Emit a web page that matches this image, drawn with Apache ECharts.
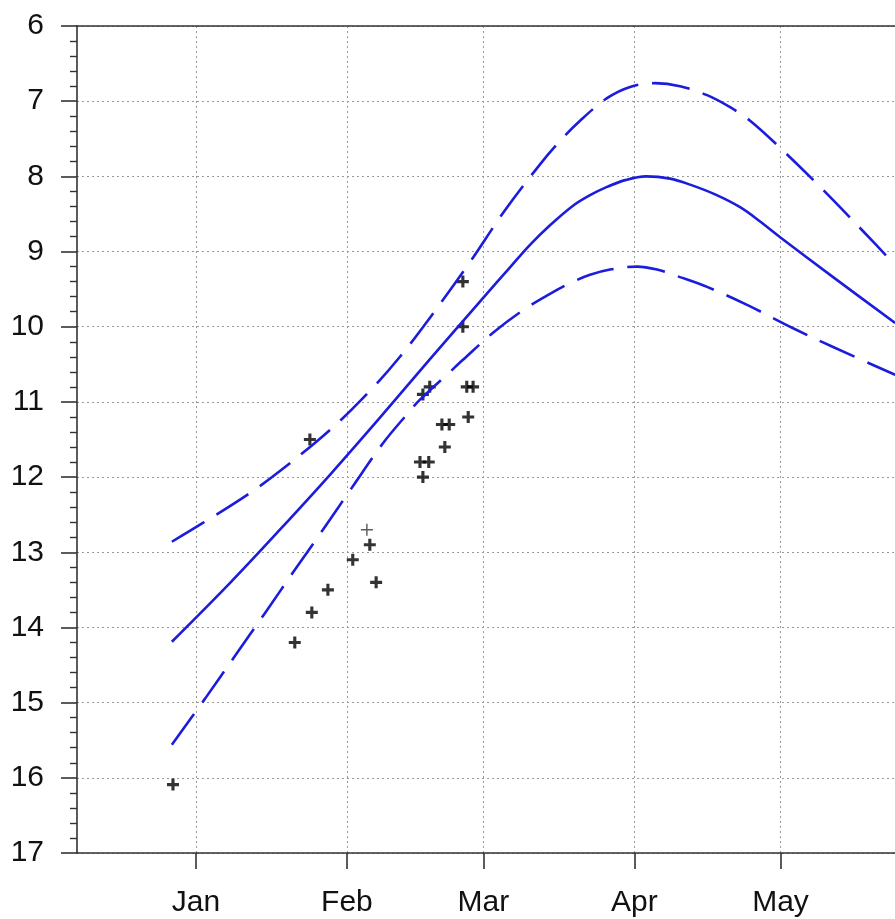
<!DOCTYPE html>
<html>
<head>
<meta charset="utf-8">
<script src="https://cdn.jsdelivr.net/npm/echarts@6/dist/echarts.min.js"></script>
<style>html,body{margin:0;padding:0;background:#fff}#c{width:895px;height:919px}</style>
</head>
<body>
<div id="c"></div>
<script>
// x values are days since 1 January
const monthDays = [0, 31, 59, 90, 120];
const monthLabels = ['Jan', 'Feb', 'Mar', 'Apr', 'May'];
const yTicks = [6, 7, 8, 9, 10, 11, 12, 13, 14, 15, 16, 17];

const centerLine = [
  [-4.93, 14.19], [6.98, 13.41], [17.25, 12.70], [27.52, 11.97], [37.78, 11.21],
  [48.05, 10.43], [58.93, 9.62], [64.48, 9.21], [68.58, 8.91], [72.69, 8.65],
  [77.41, 8.39], [80.90, 8.25], [84.39, 8.14], [88.09, 8.05], [92.40, 8.00],
  [97.33, 8.03], [101.44, 8.11], [106.57, 8.24], [111.70, 8.41], [115.81, 8.60],
  [119.92, 8.81], [130.80, 9.34], [143.53, 9.95]
];
const upperLine = [
  [-4.93, 12.86], [1.44, 12.61], [10.47, 12.24], [17.25, 11.92], [27.93, 11.35],
  [36.34, 10.81], [41.89, 10.40], [48.05, 9.88], [56.26, 9.14], [63.45, 8.45],
  [70.64, 7.84], [74.74, 7.53], [78.85, 7.26], [84.39, 6.96], [89.12, 6.81],
  [94.25, 6.76], [99.38, 6.80], [104.93, 6.92], [109.65, 7.08], [113.76, 7.26],
  [119.92, 7.62], [128.13, 8.14], [136.96, 8.73], [143.53, 9.18]
];
const lowerLine = [
  [-4.93, 15.56], [1.85, 14.95], [8.01, 14.38], [14.17, 13.81], [19.92, 13.27],
  [26.08, 12.70], [32.03, 12.14], [38.40, 11.55], [43.53, 11.15], [46.00, 10.97],
  [52.16, 10.60], [54.83, 10.44], [60.99, 10.08], [67.15, 9.78], [73.31, 9.54],
  [76.80, 9.42], [80.90, 9.31], [85.01, 9.24], [90.55, 9.20], [94.66, 9.24],
  [99.38, 9.34], [104.93, 9.47], [113.14, 9.71], [122.59, 10.02], [130.80, 10.27],
  [143.53, 10.64]
];
const observations = [
  [-4.7, 16.09], [20.3, 14.2], [23.8, 13.8], [27.1, 13.5], [32.2, 13.1],
  [35.7, 12.9], [37.0, 13.4], [23.4, 11.5],
  [54.8, 9.4], [54.8, 10.0], [55.6, 10.8], [56.9, 10.8], [55.9, 11.2],
  [48.0, 10.8], [46.6, 10.9], [50.5, 11.3], [52.0, 11.3], [51.1, 11.6],
  [46.0, 11.8], [47.8, 11.8], [46.6, 12.0]
];
const observationsFaint = [[35.1, 12.7]];

const X_MIN = -24.4, X_MAX = 143.5;
const FONT = '"Liberation Sans", Arial, sans-serif';
const crossPath = 'path://M3.7,0H6.3V3.7H10V6.3H6.3V10H3.7V6.3H0V3.7H3.7Z';
const thinCross = 'path://M4.4,0H5.6V4.4H10V5.6H5.6V10H4.4V5.6H0V4.4H4.4Z';
const blue = '#1c1cdc';
const dash = [38, 14];

const chart = echarts.init(document.getElementById('c'), null, {renderer: 'canvas'});
chart.setOption({
  animation: false,
  backgroundColor: '#ffffff',
  grid: {left: 77, right: 0, top: 26, bottom: 66, containLabel: false},
  xAxis: [{
    type: 'value', min: X_MIN, max: X_MAX, position: 'bottom',
    axisLine: {show: true, onZero: false, lineStyle: {color: '#333', width: 1.6}},
    axisTick: {show: true, inside: false, length: 16, customValues: monthDays, lineStyle: {color: '#333', width: 1.6}},
    axisLabel: {
      show: true, customValues: monthDays, margin: 35, fontSize: 30, color: '#111', fontFamily: FONT,
      formatter: v => monthLabels[monthDays.indexOf(Math.round(v))] || ''
    },
    splitLine: {show: true, lineStyle: {color: '#9a9a9a', type: [2, 3], width: 1}},
    minorTick: {show: false}
  }, {
    type: 'value', min: X_MIN, max: X_MAX, position: 'top',
    axisLine: {show: true, onZero: false, lineStyle: {color: '#333', width: 1.6}},
    axisTick: {show: false}, axisLabel: {show: false}, splitLine: {show: false}
  }],
  yAxis: {
    type: 'value', inverse: true, min: yTicks[0], max: yTicks[yTicks.length - 1], interval: 1,
    axisLine: {show: true, onZero: false, lineStyle: {color: '#333', width: 1.6}},
    axisTick: {show: true, inside: false, length: 16, lineStyle: {color: '#333', width: 1.6}},
    minorTick: {show: true, splitNumber: 5, length: 7, lineStyle: {color: '#333', width: 1.4}},
    axisLabel: {margin: 33, fontSize: 30, color: '#111', fontFamily: FONT},
    splitLine: {show: true, lineStyle: {color: '#9a9a9a', type: [2, 3], width: 1}}
  },
  series: [
    {type: 'line', data: centerLine, smooth: 0.35, showSymbol: false, clip: true,
     lineStyle: {color: blue, width: 2.6}},
    {type: 'line', data: upperLine, smooth: 0.35, showSymbol: false, clip: true,
     lineStyle: {color: blue, width: 2.6, type: dash}},
    {type: 'line', data: lowerLine, smooth: 0.35, showSymbol: false, clip: true,
     lineStyle: {color: blue, width: 2.6, type: dash}},
    {type: 'scatter', data: observations, symbol: crossPath, symbolSize: 12,
     itemStyle: {color: '#000'}},
    {type: 'scatter', data: observationsFaint, symbol: thinCross, symbolSize: 12,
     itemStyle: {color: '#333'}}
  ]
});
</script>
</body>
</html>
